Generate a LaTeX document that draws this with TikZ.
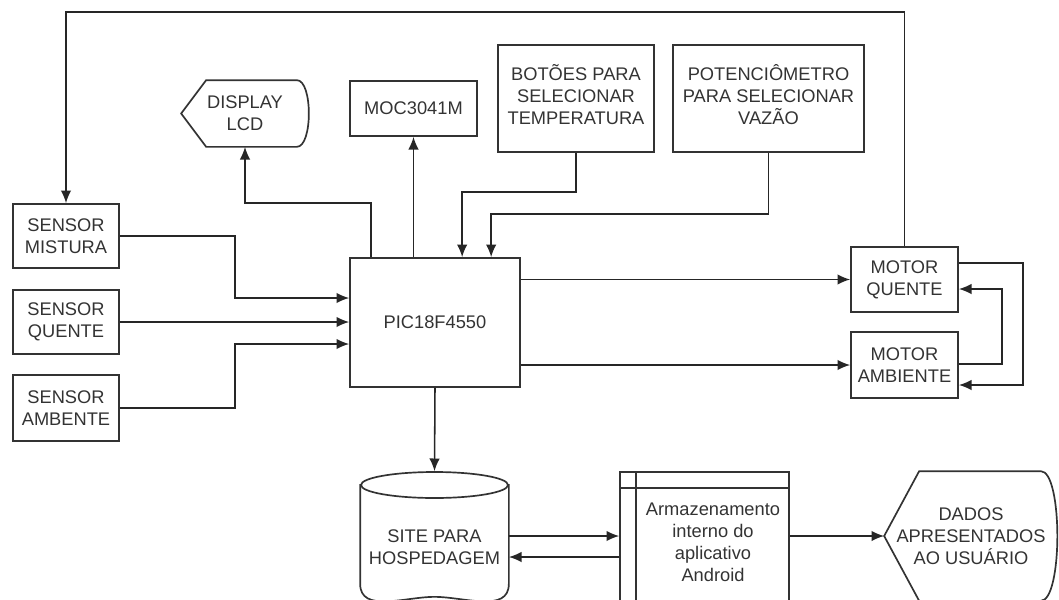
\documentclass[tikz,border=0pt]{standalone}
\usepackage{fontspec}
\setmainfont{Liberation Sans}
\usetikzlibrary{calc,arrows.meta}
\newcommand{\pxu}{0.025cm}

\begin{document}
\begin{tikzpicture}[x={(0.025cm,0cm)},y={(0cm,-0.025cm)},
  line width=1.2pt,draw=black!80,>={Latex[length=9pt,width=7.5pt]},
  font=\fontsize{13}{15.6}\selectfont,text=black!80,
  blk/.style={draw,inner sep=0pt,align=center},
  flow/.style={->,line width=1.1pt,draw=black!85}]
  \useasboundingbox (0,0) rectangle (1059,599);
  \clip (0,0) rectangle (1059,599);
  % sensors
  \node[blk,minimum width=106*\pxu,minimum height=64*\pxu] (mistura) at (66,236) {SENSOR\\MISTURA};
  \node[blk,minimum width=106*\pxu,minimum height=64*\pxu] (quente) at (66,322) {SENSOR\\QUENTE};
  \node[blk,minimum width=106*\pxu,minimum height=66*\pxu] (ambente) at (66,408) {SENSOR\\AMBENTE};
  % top row
  \node[inner sep=0pt,align=center,minimum width=126*\pxu,minimum height=65*\pxu] (lcd) at (245,113.5) {DISPLAY\\LCD};
  \draw (lcd.west) -- ($(lcd.north west)+(25,0)$) -- ($(lcd.north east)+(-12,0)$)
    .. controls +(16,0) and +(16,0) .. ($(lcd.south east)+(-12,0)$) -- ($(lcd.south west)+(25,0)$) -- cycle;
  \node[blk,minimum width=127*\pxu,minimum height=55*\pxu] (moc) at (413.5,108.5) {MOC3041M};
  \node[blk,minimum width=156*\pxu,minimum height=107*\pxu,anchor=north] (botoes) at (576,44) {\\[-9pt]BOTÕES PARA\\SELECIONAR\\TEMPERATURA};
  \node[blk,minimum width=191*\pxu,minimum height=107*\pxu,anchor=north] (pot) at (768.5,44) {\\[-9pt]POTENCIÔMETRO\\PARA SELECIONAR\\VAZÃO};
  % microcontroller
  \node[blk,minimum width=170*\pxu,minimum height=129*\pxu] (pic) at (435,322.5) {PIC18F4550};
  % motors
  \node[blk,minimum width=107*\pxu,minimum height=65*\pxu] (mquente) at (904.5,279.5) {MOTOR\\QUENTE};
  \node[blk,minimum width=107*\pxu,minimum height=66*\pxu] (mamb) at (904.5,365) {MOTOR\\AMBIENTE};
  % bottom row
  \node[inner sep=0pt,minimum width=147*\pxu,minimum height=124*\pxu] (site) at (434.5,534) {};
  \draw (site.center) ++(0,-49) ellipse [x radius=73.5*\pxu,y radius=13*\pxu];
  \draw ($(site.north west)+(0,13)$) -- ($(site.south west)+(0,-13)$)
    to[out=-90,in=180] (site.south) to[out=0,in=-90] ($(site.south east)+(0,-13)$)
    -- ($(site.north east)+(0,13)$);
  \node[align=center] (sitetxt) at (434.5,547) {SITE PARA\\HOSPEDAGEM};
  \node[blk,minimum width=169*\pxu,minimum height=148*\pxu] (armaz) at (704.5,546) {};
  \draw ($(armaz.north west)+(17,0)$) -- ($(armaz.south west)+(17,0)$);
  \draw ($(armaz.north west)+(0,17)$) -- ($(armaz.north east)+(0,17)$);
  \node[align=center] (armaztxt) at (713,542) {Armazenamento\\interno do\\aplicativo\\Android};
  \node[inner sep=0pt,align=center,minimum width=172*\pxu,minimum height=128*\pxu] (dados) at (971,536) {DADOS\\APRESENTADOS\\AO USUÁRIO};
  \draw (dados.west) -- ($(dados.north west)+(35,0)$) -- ($(dados.north east)+(-17,0)$)
    .. controls +(22,0) and +(22,0) .. ($(dados.south east)+(-17,0)$) -- ($(dados.south west)+(35,0)$) -- cycle;
  % connections
  \coordinate (top) at (0,12);
  \draw[flow] (mquente.north) -- (mquente.north |- top) -| (mistura.north);
  \draw[flow] ($(pic.north west)+(22,0)$) |- ($(lcd.south)+(0,56)$) -- (lcd.south);
  \draw[flow] (pic.north -| moc.south) -- (moc.south);
  \draw[flow] (botoes.south) |- ($(pic.north west)+(113,-65)$) -- ($(pic.north west)+(113,0)$);
  \draw[flow] (pot.south) |- ($(pic.north west)+(142,-43)$) -- ($(pic.north west)+(142,0)$);
  \draw[flow] (mistura.east) -| ($(pic.west)+(-114,-24.5)$) -- ($(pic.west)+(0,-24.5)$);
  \draw[flow] (quente.east) -- (quente.east -| pic.west);
  \draw[flow] (ambente.east) -| ($(pic.west)+(-114,21.5)$) -- ($(pic.west)+(0,21.5)$);
  \draw[flow] (pic.east |- mquente.west) -- (mquente.west);
  \draw[flow] (pic.east |- mamb.west) -- (mamb.west);
  \draw[flow] ($(mquente.east)+(0,-16.5)$) -| ($(mamb.east)+(64,20)$) -- ($(mamb.east)+(0,20)$);
  \draw[flow] ($(mamb.east)+(0,-1)$) -| ($(mquente.east)+(43,9.5)$) -- ($(mquente.east)+(0,9.5)$);
  \draw[flow] (pic.south) -- (site.north);
  \draw[flow] ($(site.east)+(0,2)$) -- ($(site.east -| armaz.west)+(0,2)$);
  \draw[flow] ($(armaz.west)+(0,11)$) -- ($(armaz.west -| site.east)+(0,11)$);
  \draw[flow] (armaz.east |- dados.west) -- (dados.west);
\end{tikzpicture}
\end{document}
